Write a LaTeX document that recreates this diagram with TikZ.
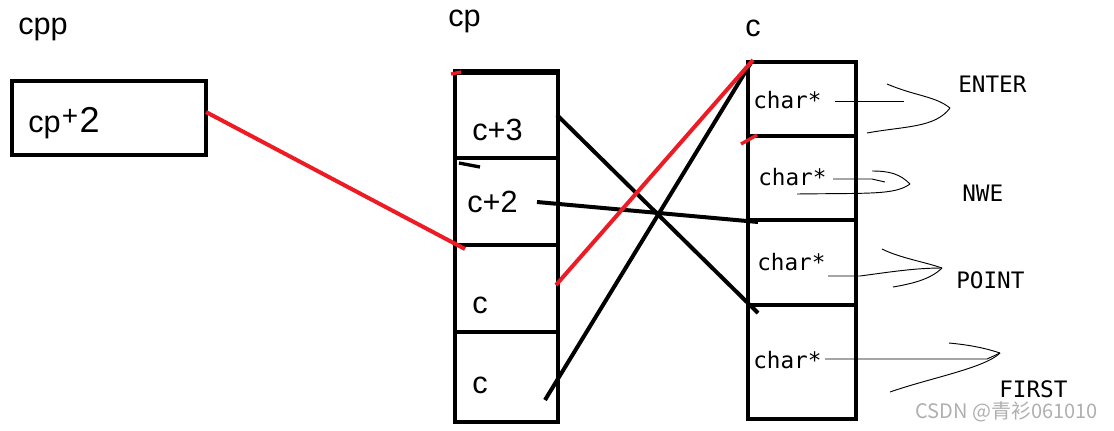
\documentclass[tikz,border=0pt]{standalone}
\usepackage{fontspec}
\setmainfont{Liberation Sans}
\newfontfamily\monofnt{DejaVu Sans Mono}
\newfontfamily\cjkfnt{Noto Sans CJK SC}
\definecolor{pred}{RGB}{237,28,36}
\definecolor{wmark}{RGB}{175,175,175}
\begin{document}
\begin{tikzpicture}[x=0.75pt,y=-0.75pt,
  cell/.style={draw=black, line width=3.6pt, rectangle, inner sep=0pt, outer sep=0pt},
  lbl/.style={inner sep=0pt, anchor=base west, font=\fontsize{23}{25}\selectfont},
  mono/.style={inner sep=0pt, anchor=base west, font=\monofnt\fontsize{17}{19}\selectfont},
  word/.style={inner sep=0pt, anchor=base west, font=\monofnt\fontsize{17}{19}\selectfont},
  blk/.style={draw=black, line width=3pt},
  rdl/.style={draw=pred, line width=3pt},
  thin/.style={draw=black, line width=0.7pt}]
\useasboundingbox (0,0) rectangle (1114,430);
% left box
\node[lbl] (cpptxt) at (18,34) {cpp};
\node[cell, minimum width=194*0.75pt, minimum height=74*0.75pt] (cpbox) at (109,118) {};
\node[lbl] (cpbtxt) at (28,132) {cp\kern1pt\raisebox{5pt}{\fontsize{21}{21}\selectfont+}\kern1pt\fontsize{27}{27}\selectfont 2};
% middle column
\node[lbl] (cptxt) at (448,26) {cp};
\node[cell, minimum width=103*0.75pt, minimum height=87*0.75pt] (cp1) at (506.5,114.5) {};
\node[cell, minimum width=103*0.75pt, minimum height=87*0.75pt] (cp2) at (506.5,201.5) {};
\node[cell, minimum width=103*0.75pt, minimum height=87*0.75pt] (cp3) at (506.5,288.5) {};
\node[cell, minimum width=103*0.75pt, minimum height=90*0.75pt] (cp4) at (506.5,377) {};
\coordinate (tt0) at (455,72);
\coordinate (tt1) at (558,72);
\draw[blk, line width=5pt] (tt0) -- (tt1);
\node[lbl] (t1) at (472,140) {c+3};
\node[lbl] (t2) at (467,212) {c+2};
\node[lbl] (t3) at (472,313) {c};
\node[lbl] (t4) at (472,393) {c};
% right column
\node[lbl] (ctxt) at (745,36) {c};
\node[cell, minimum width=108*0.75pt, minimum height=74*0.75pt] (c1) at (802,99) {};
\node[cell, minimum width=108*0.75pt, minimum height=84*0.75pt] (c2) at (802,178) {};
\node[cell, minimum width=108*0.75pt, minimum height=85*0.75pt] (c3) at (802,262.5) {};
\node[cell, minimum width=108*0.75pt, minimum height=114*0.75pt] (c4) at (802,362) {};
\node[mono] (s1) at (753,108) {char*};
\node[mono] (s2) at (758,185) {char*};
\node[mono] (s3) at (757,270) {char*};
\node[mono] (s4) at (753,368) {char*};
\node[word] (w1) at (958,92) {ENTER};
\node[word] (w2) at (962,201) {NWE};
\node[word] (w3) at (956,288) {POINT};
\node[word] (w4) at (999,397) {FIRST};
\node[inner sep=0pt, anchor=base west, text=wmark, font=\cjkfnt\fontsize{15}{16}\selectfont] (wm) at (915,418) {CSDN @青衫061010};
% connector end points
\coordinate (a0) at (206,112);
\coordinate (a1) at (465,249);
\coordinate (b0) at (557,115);
\coordinate (b1) at (758,313);
\coordinate (d0) at (537,202);
\coordinate (d1) at (758,222);
\coordinate (e0) at (545,400);
\coordinate (e1) at (752,61);
\coordinate (f0) at (556,285);
\coordinate (f1) at (753,60);
\draw[rdl] (a0) -- (a1);
\draw[blk] (b0) -- (b1);
\draw[blk] (d0) -- (d1);
\draw[blk] (e0) -- (e1);
\draw[rdl] (f0) -- (f1);
% small ticks
\coordinate (k1) at (741,144);
\coordinate (k2) at (757,135);
\draw[rdl, line width=2.5pt] (k1) -- (k2);
\coordinate (k3) at (459,163);
\coordinate (k4) at (480,167);
\draw[blk, line width=2.5pt] (k3) -- (k4);
\coordinate (k5) at (451,74);
\coordinate (k6) at (461,72);
\draw[rdl, line width=2.5pt] (k5) -- (k6);
% hand-drawn pointers
\coordinate (p1) at (835,101); \coordinate (p1t) at (950,108);
\draw[thin] (p1) -- (904,101);
\draw[thin] (887,84) .. controls (915,96) and (935,96) .. (p1t);
\draw[thin] (p1t) .. controls (935,128) and (905,126) .. (867,133);
\coordinate (p2) at (833,179); \coordinate (p2t) at (910,184);
\draw[thin] (p2) -- (872,179) -- (885,182);
\draw[thin] (872,171) .. controls (890,171) and (900,174) .. (p2t);
\draw[thin] (p2t) .. controls (895,195) and (870,193) .. (797,194);
\coordinate (p3) at (828,276); \coordinate (p3t) at (942,268);
\draw[thin] (p3) -- (860,276) .. controls (890,272) and (915,268) .. (p3t);
\draw[thin] (882,249) .. controls (900,258) and (925,262) .. (p3t);
\draw[thin] (p3t) .. controls (930,280) and (910,284) .. (893,287);
\coordinate (p4) at (825,359); \coordinate (p4t) at (1000,353);
\draw[thin] (p4) -- (987,359) -- (p4t);
\draw[thin] (949,343) .. controls (970,345) and (985,348) .. (p4t);
\draw[thin] (p4t) .. controls (985,368) and (930,378) .. (890,392);
\end{tikzpicture}
\end{document}
